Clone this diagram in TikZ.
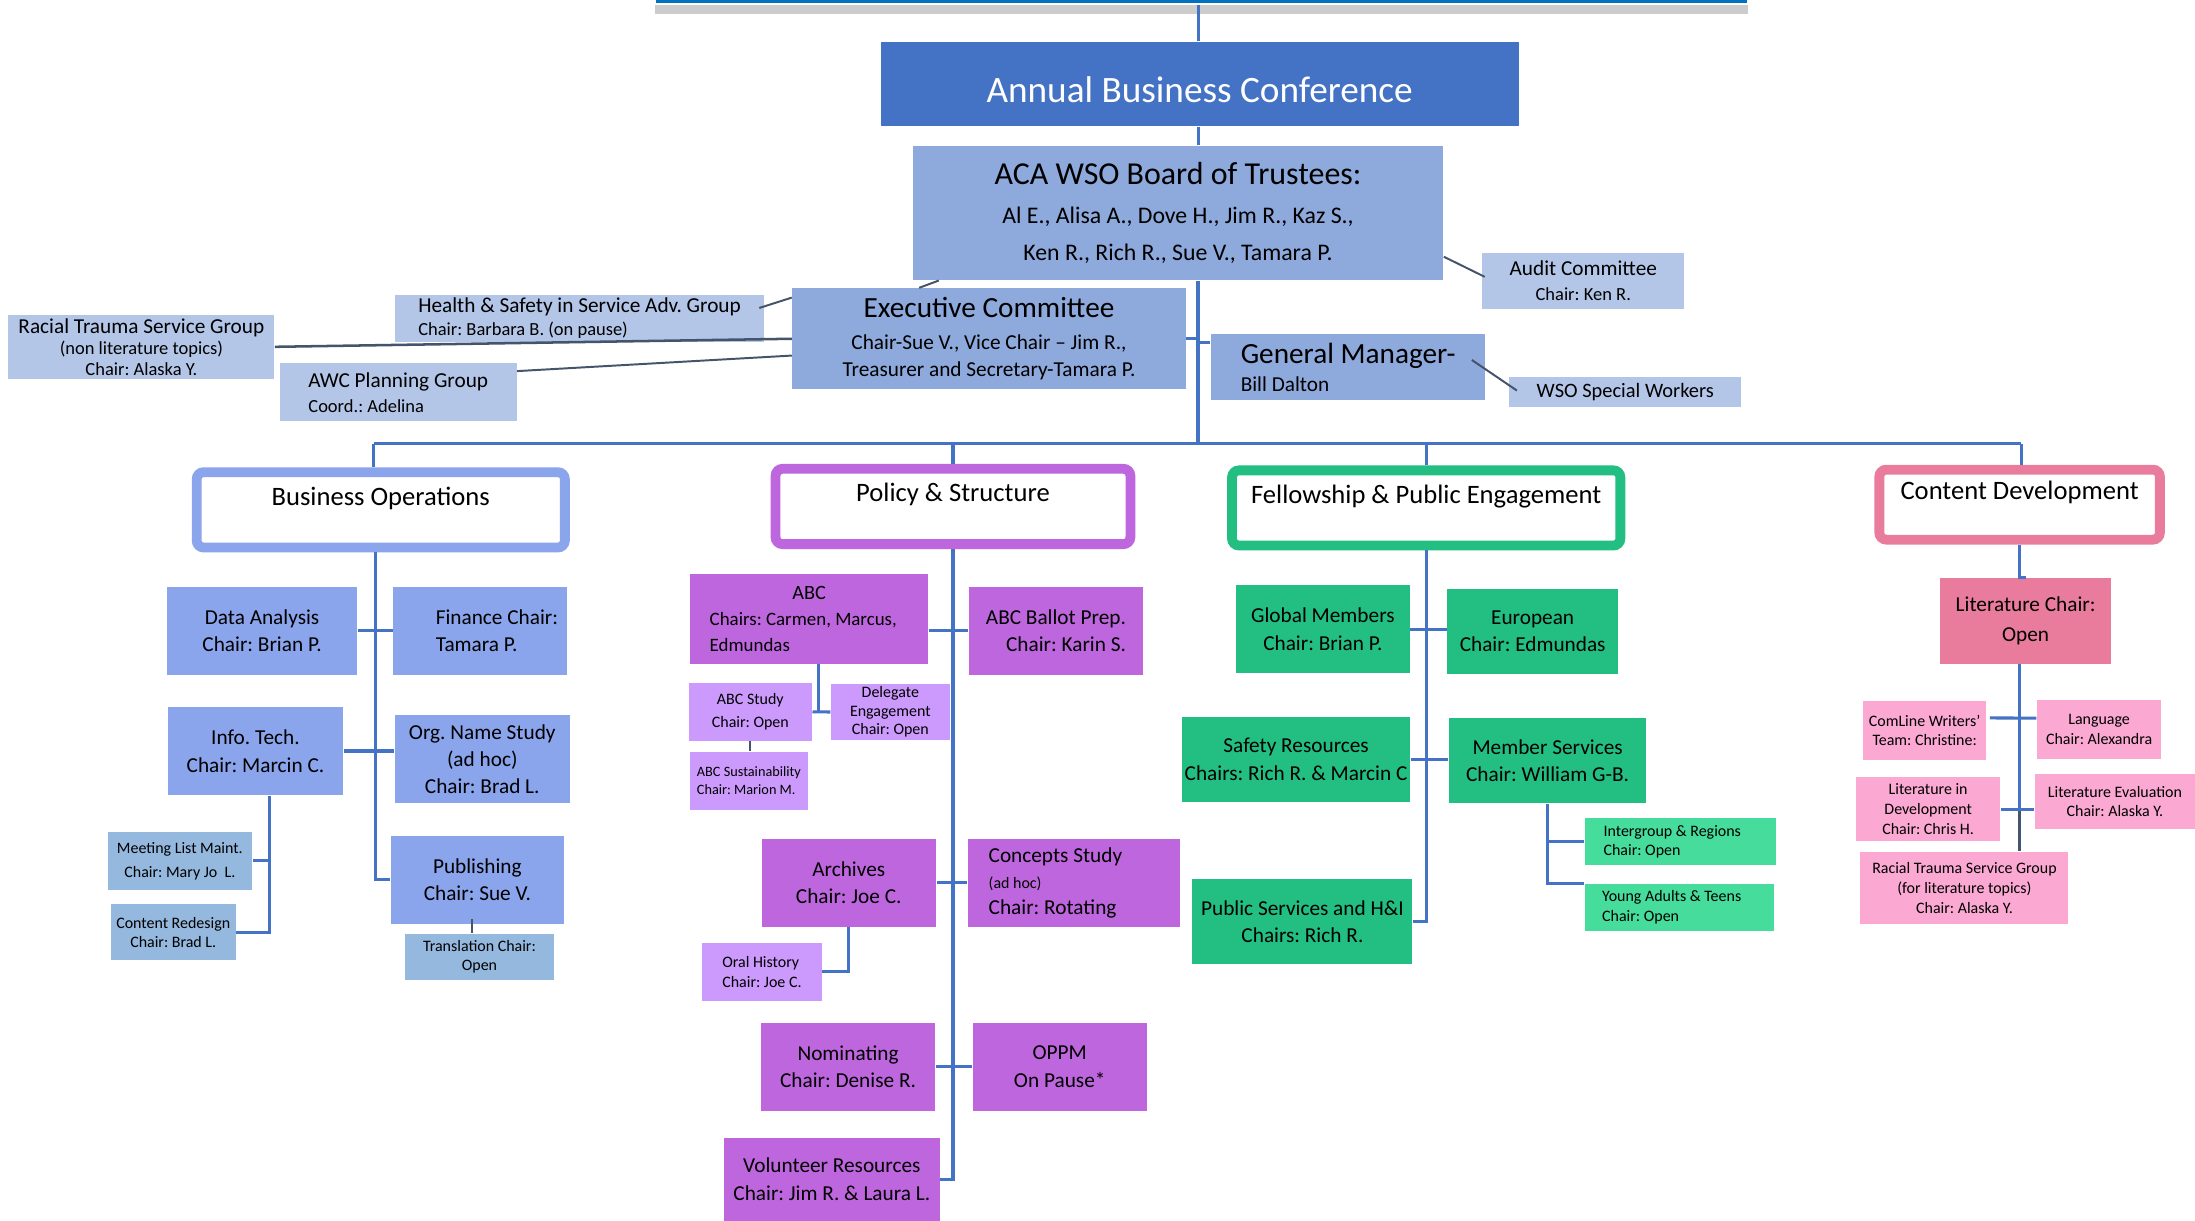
\documentclass[tikz,border=0pt]{standalone}
\usepackage{fontspec}
\setmainfont{Carlito}
\frenchspacing
\usetikzlibrary{shadows,calc}
\definecolor{barBlue}{RGB}{0,112,192}
\definecolor{confBlue}{RGB}{68,114,196}
\definecolor{boardBlue}{RGB}{142,169,219}
\definecolor{paleBlue}{RGB}{180,198,231}
\definecolor{opsBlue}{RGB}{139,165,236}
\definecolor{steelBlue}{RGB}{149,185,222}
\definecolor{policyPurple}{RGB}{190,102,222}
\definecolor{lilac}{RGB}{204,153,252}
\definecolor{fellowGreen}{RGB}{35,190,130}
\definecolor{mint}{RGB}{70,220,155}
\definecolor{contentPink}{RGB}{233,124,157}
\definecolor{palePink}{RGB}{251,168,210}
\definecolor{slateLine}{RGB}{68,84,106}
\newcommand{\fsConf}{\fontsize{13.3}{16}\selectfont}
\newcommand{\fsBoard}{\fontsize{11.4}{14}\selectfont}
\newcommand{\fsExec}{\fontsize{10.45}{12}\selectfont}
\newcommand{\fsHead}{\fontsize{9.5}{11}\selectfont}
\newcommand{\fsBody}{\fontsize{7.6}{9.8}\selectfont}
\newcommand{\fsSmall}{\fontsize{6.6}{8.5}\selectfont}
\newcommand{\fsTiny}{\fontsize{5.7}{7}\selectfont}
\tikzset{%
  % Specifications for style of nodes:
            base/.style = {rectangle, draw=none, inner sep=1pt, align=center,
                           font=\fsBody},
 boxsize/.style 2 args = {minimum width={#1*0.5pt}, minimum height={#2*0.5pt}},
          topBar/.style = {rectangle, fill=barBlue, draw=white, line width=0.8pt,
                           drop shadow={shadow xshift=0pt, shadow yshift=-3.5pt,
                           opacity=0.4, fill=gray}},
         confBox/.style = {base, fill=confBlue, text=white, font=\fsConf},
        boardBox/.style = {base, fill=boardBlue},
         paleBox/.style = {base, fill=paleBlue},
          opsBox/.style = {base, fill=opsBlue},
        steelBox/.style = {base, fill=steelBlue, font=\fsTiny},
       policyBox/.style = {base, fill=policyPurple},
        lilacBox/.style = {base, fill=lilac, font=\fsTiny},
       fellowBox/.style = {base, fill=fellowGreen},
         mintBox/.style = {base, fill=mint, font=\fsTiny},
      contentBox/.style = {base, fill=contentPink},
         pinkBox/.style = {base, fill=palePink, font=\fsTiny},
         headBox/.style = {rectangle, fill=white, line width=3.5pt,
                           rounded corners=2.5pt, inner sep=0pt},
        headText/.style = {font=\fsHead, anchor=base, yshift=-13.5pt},
            conn/.style = {draw=confBlue, line width=1.1pt},
        slimConn/.style = {draw=slateLine, line width=0.7pt},
}
\begin{document}
\begin{tikzpicture}[x=0.5pt, y=-0.5pt]
  \path[use as bounding box, fill=white] (0,0) rectangle (1568,872);
  % Specification of nodes (position, etc.)
  \node (onTop)      [topBar, boxsize={781}{40}]    at (858.5,-17) {};
  \node (onAnnual)   [confBox, boxsize={456}{60}, text height=13.3pt] at (857,60) {Annual Business Conference};
  \node (onBoard)    [boardBox, boxsize={379}{96}, font=\fontsize{8.5}{13}\selectfont] at (841.5,152)
     {{\fsBoard ACA WSO Board of Trustees:}\\[1pt] Al E., Alisa A., Dove H., Jim R., Kaz S.,\\ Ken R., Rich R., Sue V., Tamara P.};
  \node (onExec)     [boardBox, boxsize={281}{72}]  at (706.5,242)
     {{\fsExec Executive Committee}\\[1.5pt] Chair-Sue V., Vice Chair – Jim R.,\\ Treasurer and Secretary-Tamara P.};
  \node (onGM)       [boardBox, boxsize={196}{47}, align=flush left, font=\fontsize{7.6}{10}\selectfont] at (963,262.15)
     {{\fsExec General Manager-}\\ Bill Dalton};
  \node (onHealth)   [paleBox, boxsize={264}{33}, align=flush left, font=\fontsize{7.6}{8.3}\selectfont] at (414,227.5)
     {Health \& Safety in Service Adv. Group\\ {\fsSmall Chair: Barbara B. (on pause)}};
  \node (onRacial)   [paleBox, boxsize={190}{45.5}, font=\fontsize{7.6}{7.5}\selectfont] at (101,247.75)
     {Racial Trauma Service Group\\ {\fsSmall (non literature topics)}\\ {\fsSmall Chair: Alaska Y.}};
  \node (onAWC)      [paleBox, boxsize={169}{41.5}, align=flush left, font=\fontsize{7.6}{9}\selectfont] at (284.5,280.25)
     {AWC Planning Group\\ {\fsSmall Coord.: Adelina}};
  \node (onAudit)    [paleBox, boxsize={144}{39.5}, font=\fontsize{7.6}{9}\selectfont] at (1131,200.75)
     {Audit Committee\\ {\fsSmall Chair: Ken R.}};
  \node (onWSO)      [paleBox, boxsize={166}{22}, font=\fontsize{7.3}{9}\selectfont] at (1161,280) {WSO Special Workers};

  % committees
  \node (onBusOps)   [headBox, draw=opsBlue, boxsize={263}{53.8},
     label={[headText]north:Business Operations}] at (272,364.2) {};
  \node (onPolicy)   [headBox, draw=policyPurple, boxsize={253.5}{53.8},
     label={[headText]north:Policy \& Structure}] at (680.75,361.8) {};
  \node (onFellow)   [headBox, draw=fellowGreen, boxsize={277.4}{53.7},
     label={[headText]north:Fellowship \& Public Engagement}] at (1018.8,362.85) {};
  \node (onContent)  [headBox, draw=contentPink, boxsize={200.4}{50},
     label={[headText, yshift=1pt]north:Content Development}] at (1442.7,360.5) {};

  \node (onData)     [opsBox, boxsize={135.6}{63}]  at (187.2,450.5) {Data Analysis\\ Chair: Brian P.};
  \node (onFinance)  [opsBox, boxsize={124}{63}, align=flush left] at (343,450.5) {\hspace*{12pt}Finance Chair:\\ \hspace*{12pt}Tamara P.};
  \node (onInfo)     [opsBox, boxsize={125}{63}]    at (182.5,536.5) {Info. Tech.\\ Chair: Marcin C.};
  \node (onOrg)      [opsBox, boxsize={125}{62.6}]  at (344.5,542.3) {Org. Name Study\\ (ad hoc)\\ Chair: Brad L.};
  \node (onMeeting)  [steelBox, boxsize={103}{42}, font=\fontsize{5.7}{8.5}\selectfont] at (128.5,615)
     {Meeting List Maint.\\ Chair: Mary Jo\ \ L.};
  \node (onRedesign) [steelBox, boxsize={89.5}{40}] at (123.75,666) {Content Redesign\\ Chair: Brad L.};
  \node (onPublish)  [opsBox, boxsize={124}{63}]    at (341,628.5) {Publishing\\ Chair: Sue V.};
  \node (onTransl)   [steelBox, boxsize={107}{33}]  at (342.5,683.5) {Translation Chair:\\ Open};

  \node (onABC)      [policyBox, boxsize={170}{64.3}, align=flush left, text width=71pt, inner xsep=7pt,
     font=\fontsize{6.75}{9.2}\selectfont] at (578,442)
     {\makebox[\linewidth]{\fontsize{7.25}{9}\selectfont ABC}\\ Chairs: Carmen, Marcus,\\ Edmundas};
  \node (onBallot)   [policyBox, boxsize={124.6}{63}, align=flush right] at (754.3,450.5) {ABC Ballot Prep.\\ Chair: Karin S.};
  \node (onStudy)    [lilacBox, boxsize={88}{41}, font=\fontsize{5.7}{8}\selectfont] at (536,508.5) {ABC Study\\ Chair: Open};
  \node (onDelegate) [lilacBox, boxsize={85}{40}, font=\fontsize{5.7}{6.6}\selectfont] at (636,508.6)
     {Delegate\\ Engagement\\ Chair: Open};
  \node (onSustain)  [lilacBox, boxsize={84}{41.6}, align=flush left, font=\fontsize{5.1}{6.5}\selectfont] at (535,557.8)
     {ABC Sustainability\\ Chair: Marion M.};
  \node (onArchives) [policyBox, boxsize={124.6}{63}] at (606.3,630.5) {Archives\\ Chair: Joe C.};
  \node (onConcepts) [policyBox, boxsize={151.5}{63}, align=flush left, text width=61pt, inner xsep=7.25pt,
     font=\fontsize{7.6}{9.3}\selectfont] at (767.25,630.5) {Concepts Study\\ {\fsTiny (ad hoc)}\\ Chair: Rotating};
  \node (onOral)     [lilacBox, boxsize={85.4}{41.2}, align=flush left] at (544.3,694.2) {Oral History\\ Chair: Joe C.};
  \node (onNominate) [policyBox, boxsize={124.4}{62.7}] at (605.8,762) {Nominating\\ Chair: Denise R.};
  \node (onOPPM)     [policyBox, boxsize={124}{62.7}] at (757,762) {OPPM\\ On Pause*};
  \node (onVolunteer)[policyBox, boxsize={154.4}{59}] at (594.2,842.4) {Volunteer Resources\\ Chair: Jim R. \& Laura L.};

  \node (onGlobal)   [fellowBox, boxsize={124}{63}]   at (945,449.5) {Global Members\\ Chair: Brian P.};
  \node (onEuropean) [fellowBox, boxsize={121.7}{60.6}] at (1094.85,451) {European\\ Chair: Edmundas};
  \node (onSafety)   [fellowBox, boxsize={162.3}{61}] at (925.85,542.5) {Safety Resources\\ Chairs: Rich R. \& Marcin C};
  \node (onMember)   [fellowBox, boxsize={141}{60.6}] at (1105.5,543.3) {Member Services\\ Chair: William G-B.};
  \node (onPublic)   [fellowBox, boxsize={157.2}{60.6}] at (930.4,658.3) {Public Services and H\&I\\ Chairs: Rich R.};
  \node (onIntergroup) [mintBox, boxsize={137}{34}, align=flush left, text width=55pt, inner xsep=6.75pt,
     font=\fontsize{5.7}{6.8}\selectfont] at (1200.5,601) {Intergroup \& Regions\\ Chair: Open};
  \node (onYoung)    [mintBox, boxsize={135}{33.6}, align=flush left, text width=55pt, inner xsep=6.25pt,
     font=\fontsize{5.7}{7}\selectfont] at (1199.5,648.2) {Young Adults \& Teens\\ Chair: Open};

  \node (onLitChair) [contentBox, boxsize={122}{61}, font=\fontsize{7.6}{10.4}\selectfont] at (1447,443.5)
     {Literature Chair:\\ Open};
  \node (onComLine)  [pinkBox, boxsize={88.3}{42.3}] at (1374.85,521.85) {ComLine Writers’\\ Team: Christine:};
  \node (onLanguage) [pinkBox, boxsize={89}{42}]     at (1499.5,521) {Language\\ Chair: Alexandra};
  \node (onLitDev)   [pinkBox, boxsize={103.3}{46}]  at (1377.35,578) {Literature in\\ Development\\ Chair: Chris H.};
  \node (onLitEval)  [pinkBox, boxsize={114.4}{39}]  at (1510.8,572.5) {Literature Evaluation\\ Chair: Alaska Y.};
  \node (onRacialLit)[pinkBox, boxsize={148.6}{51.4}] at (1403.3,634.3)
     {Racial Trauma Service Group\\ (for literature topics)\\ Chair: Alaska Y.};

  % main trunk and bus
  \coordinate (trunk) at (856,0);
  \coordinate (busL)  at (267,317);
  \coordinate (busR)  at (1444,317);
  \draw[conn] (trunk |- onTop.south) -- (trunk |- onAnnual.north);
  \draw[conn] (trunk |- onAnnual.south) -- (trunk |- onBoard.north);
  \draw[conn, line width=1.4pt] (trunk |- onBoard.south) -- (trunk |- busL);
  \draw[conn] (busL) -- (busR);
  \draw[conn] (onExec.east) -- (trunk |- onExec.east);
  \draw[conn] (trunk |- onGM.170) -- (onGM.170);
  \draw[conn] (busL) -- (busL |- onBusOps.north);
  \draw[conn] (onPolicy.north |- busL) -- (onPolicy.north);
  \draw[conn] (onFellow.north |- busL) -- (onFellow.north);
  \draw[conn] (busR) -- (busR |- onContent.north);
  \draw[slimConn] ($(onExec.north west)+(91,0)$) -- ($(onBoard.south west)+(19,0)$);
  \draw[slimConn] ($(onHealth.east)+(-4,-7.5)$) -- ($(onExec.north west)+(0,7)$);
  \draw[slimConn, line width=0.9pt] (onRacial.east) -- (onExec.west);
  \draw[slimConn] ($(onAWC.north east)+(0,6)$) -- ($(onExec.west)+(0,12)$);
  \draw[slimConn] ($(onBoard.south east)+(0,-17)$) -- ($(onAudit.west)+(2,-3)$);
  \draw[slimConn] ($(onGM.east)+(-10,-5)$) -- ($(onWSO.west)+(6,-1)$);

  % business operations
  \draw[conn] ($(onBusOps.south)+(-4,0)$) |- (onPublish.west);
  \draw[conn] (onData.east) -- (onFinance.west);
  \draw[conn] (onInfo.east) -- (onInfo.east -| onOrg.west);
  \coordinate (itBar) at ($(onInfo.south)+(10,0)$);
  \draw[conn] (itBar) |- (onRedesign.east);
  \draw[conn] (onMeeting.east) -- (onMeeting.east -| itBar);
  \draw[slimConn] ($(onTransl.north)+(-5,0)$) -- ($(onTransl.north |- onPublish.south)+(-5,-4)$);

  % policy and structure
  \draw[conn] (onPolicy.south) |- (onVolunteer.east);
  \draw[conn] (onABC.east |- onBallot.west) -- (onBallot.west);
  \coordinate (abcBar) at ($(onABC.south)+(7,0)$);
  \draw[conn] (abcBar) -- (abcBar |- onStudy.east);
  \draw[conn] (onStudy.east) -- (onDelegate.west);
  \draw[slimConn] (onStudy.south) -- (onStudy.south |- onSustain.north);
  \draw[conn] (onArchives.east) -- (onConcepts.west);
  \draw[conn] (onArchives.south) |- (onOral.east);
  \draw[conn] (onNominate.east) -- (onOPPM.west);

  % fellowship and public engagement
  \draw[conn] (onFellow.south) |- (onPublic.east);
  \draw[conn] (onGlobal.east) -- (onGlobal.east -| onEuropean.west);
  \draw[conn] (onSafety.east) -- (onSafety.east -| onMember.west);
  \draw[conn] (onMember.south) |- (onYoung.north west);
  \draw[conn] (onMember.south |- onIntergroup.west) -- (onIntergroup.west);

  % content development
  \draw[conn] (onContent.south) |- (onLitChair.north);
  \draw[conn] (onContent.south |- onLitChair.south) -- (onContent.south |- onLitDev.east);
  \draw[slimConn, line width=1pt] (onContent.south |- onLitDev.east) -- (onContent.south |- onRacialLit.north);
  \draw[conn] ($(onComLine.east)+(2,-9)$) -- ($(onLanguage.west)+(0,-8)$);
  \draw[conn] (onLitDev.east) -- (onLitDev.east -| onLitEval.west);
\end{tikzpicture}
\end{document}
